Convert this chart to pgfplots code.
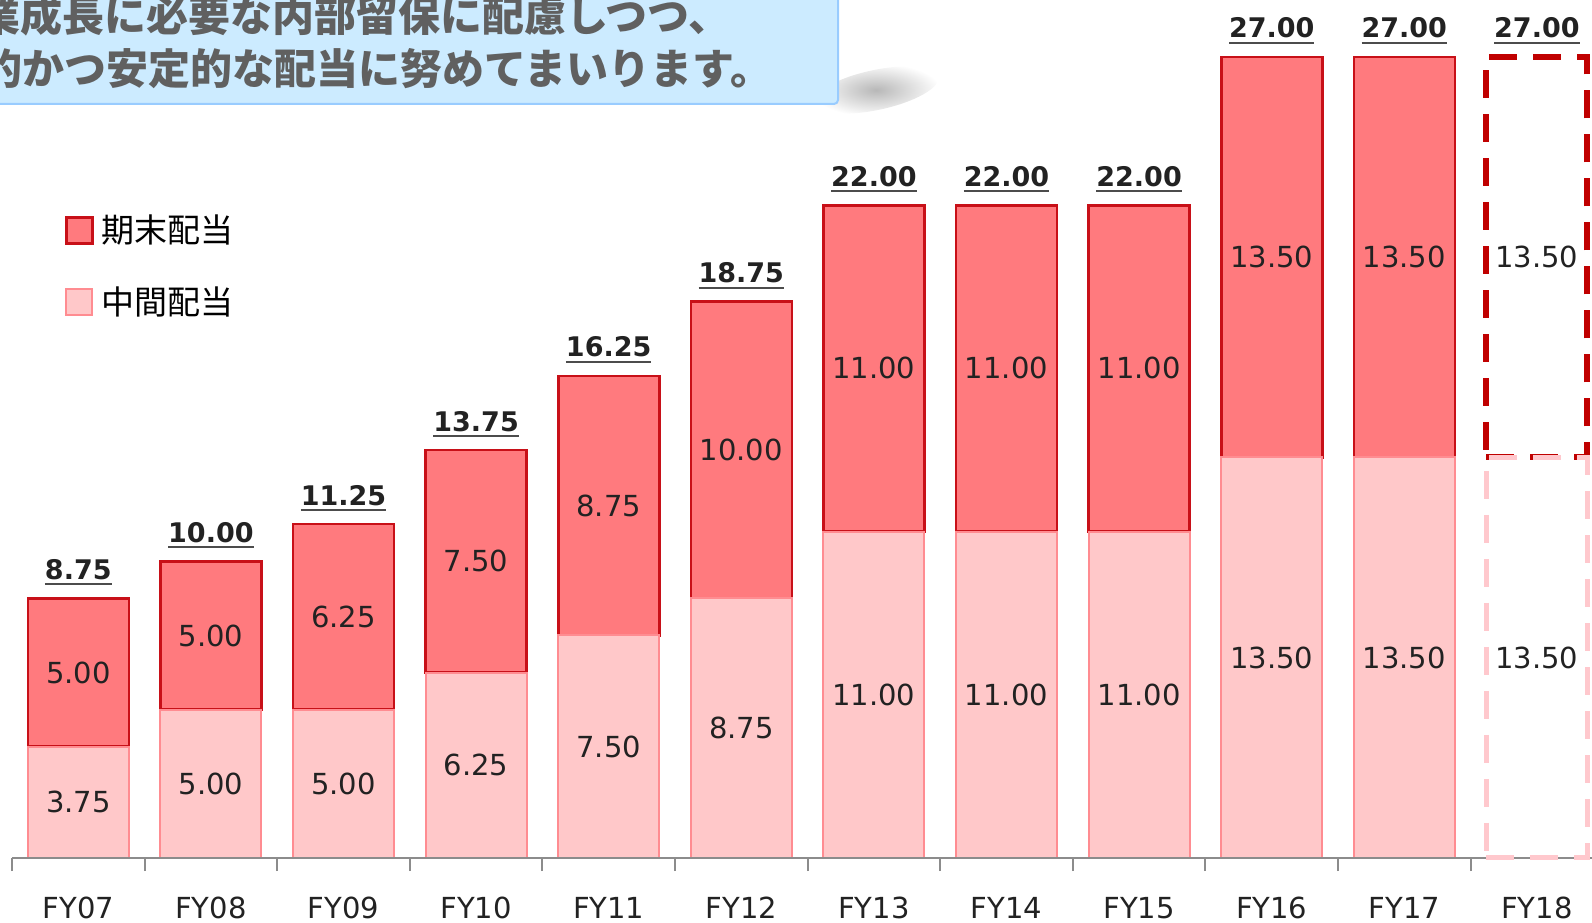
\documentclass[border=0pt]{standalone}
\usepackage{pgfplots}
\pgfplotsset{compat=1.18}
\usepackage{fontspec}
\setmainfont{DejaVu Sans}
\newfontfamily\jp{Noto Sans CJK JP}
\definecolor{topfill}{RGB}{255,122,126}
\definecolor{topdraw}{RGB}{200,16,24}
\definecolor{botfill}{RGB}{255,200,201}
\definecolor{botdraw}{RGB}{255,140,145}
\definecolor{dashdark}{RGB}{192,0,0}
\definecolor{dashpink}{RGB}{255,200,205}
\definecolor{cfill}{RGB}{204,235,255}
\definecolor{cdraw}{RGB}{153,204,255}
\definecolor{cgray}{RGB}{96,96,96}
\definecolor{axgray}{RGB}{140,140,140}
\definecolor{txt}{RGB}{34,34,34}
\newcommand\ul[1]{\setbox0\hbox{#1}\rlap{\color{black!70}\rule[-3pt]{\wd0}{1pt}}\box0}
\newcommand\lab{\fontsize{14.5}{16}\selectfont}
\pgfplotsset{base/.style={scale only axis, width=795.6pt, height=415.4pt,
  xmin=-0.5, xmax=11.5, ymin=0, ymax=28, at={(6pt,32pt)}, anchor=south west}}
\begin{document}
\begin{tikzpicture}
\begin{scope}
\clip (0,0) rectangle (796pt,461pt);
% callout
\shade[rotate around={12:(438pt,416pt)}, inner color=black!28, outer color=white] (438pt,416pt) ellipse (32pt and 10pt);
\draw[fill=cfill, draw=cdraw, line width=1pt, rounded corners=2pt] (-20pt,409pt) rectangle (419pt,480pt);
\node[anchor=base west, inner sep=0pt, text=cgray, font=\jp\bfseries\fontsize{21}{22}\selectfont] at (10pt,445.3pt) {\llap{事業}成長に必要な内部留保に配慮しつつ、};
\node[anchor=base west, inner sep=0pt, text=cgray, font=\jp\bfseries\fontsize{21}{22}\selectfont] at (11pt,418.7pt) {\llap{積極的}かつ安定的な配当に努めてまいります。};
% main bars
\begin{axis}[base, ybar stacked, bar width=50.5pt, axis on top,
  axis x line*=bottom, axis y line=none,
  x axis line style={draw=axgray, line width=1pt},
  xtick={0,...,11}, xticklabels={FY07,FY08,FY09,FY10,FY11,FY12,FY13,FY14,FY15,FY16,FY17,FY18},
  major tick length=0pt, minor xtick={-0.5,0.5,...,11.5}, minor tick length=6.5pt, tick align=outside,
  minor x tick style={draw=axgray, line width=1pt},
  xticklabel style={anchor=base, yshift=-30pt, font=\lab, text=txt},
  legend style={at={(0.033,0.779)}, anchor=north west, draw=none, fill=none, inner sep=0pt,
    font=\jp\fontsize{16.5}{18}\selectfont, text=black, row sep=16.5pt,
    /tikz/every odd column/.append style={column sep=2pt}},
  legend cell align=left, reverse legend,
  legend image code/.code={\draw[#1] (0pt,-6.5pt) rectangle (13pt,6.5pt);}]
\addplot[fill=botfill, draw=botdraw, line width=1pt] coordinates {(0,3.75)(1,5)(2,5)(3,6.25)(4,7.5)(5,8.75)(6,11)(7,11)(8,11)(9,13.5)(10,13.5)};
\addlegendentry{中間配当}
\addplot[fill=topfill, draw=topdraw, line width=1.3pt] coordinates {(0,5)(1,5)(2,6.25)(3,7.5)(4,8.75)(5,10)(6,11)(7,11)(8,11)(9,13.5)(10,13.5)};
\addlegendentry{期末配当}
\end{axis}
% FY18 forecast
\begin{axis}[base, hide axis, ybar stacked, bar width=50.5pt, clip=false]
\addplot[fill=none, draw=dashpink, line width=2.5pt, dash pattern=on 14pt off 8pt] coordinates {(11,13.5)};
\addplot[fill=none, draw=dashdark, line width=3pt, dash pattern=on 14pt off 8pt] coordinates {(11,13.5)};
\end{axis}
% labels
\begin{axis}[base, hide axis, clip=false]
\addplot[draw=none, nodes near coords, point meta=explicit symbolic,
  every node near coord/.style={anchor=center, font=\lab, text=txt}] coordinates {
 (0,1.875)[3.75] (0,6.25)[5.00]
 (1,2.5)[5.00] (1,7.5)[5.00]
 (2,2.5)[5.00] (2,8.125)[6.25]
 (3,3.125)[6.25] (3,10)[7.50]
 (4,3.75)[7.50] (4,11.875)[8.75]
 (5,4.375)[8.75] (5,13.75)[10.00]
 (6,5.5)[11.00] (6,16.5)[11.00]
 (7,5.5)[11.00] (7,16.5)[11.00]
 (8,5.5)[11.00] (8,16.5)[11.00]
 (9,6.75)[13.50] (9,20.25)[13.50]
 (10,6.75)[13.50] (10,20.25)[13.50]
 (11,6.75)[13.50] (11,20.25)[13.50]};
\addplot[draw=none, nodes near coords={\ul{\pgfplotspointmeta}}, point meta=explicit symbolic,
  every node near coord/.style={anchor=base, yshift=9.5pt, font=\bfseries\fontsize{13.5}{15}\selectfont, text=txt}] coordinates {
 (0,8.75)[8.75] (1,10)[10.00] (2,11.25)[11.25] (3,13.75)[13.75] (4,16.25)[16.25] (5,18.75)[18.75]
 (6,22)[22.00] (7,22)[22.00] (8,22)[22.00] (9,27)[27.00] (10,27)[27.00] (11,27)[27.00]};
\end{axis}
\end{scope}
\pgfresetboundingbox
\path[use as bounding box] (0,0) rectangle (796pt,461pt);
\end{tikzpicture}
\end{document}
